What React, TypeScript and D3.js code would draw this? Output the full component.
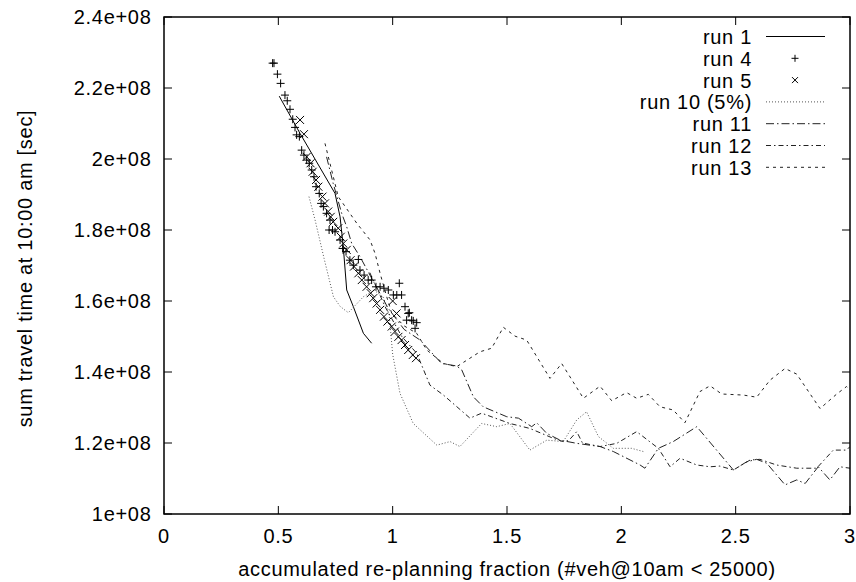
import React from "react";
import * as d3 from "d3";

const W = 856;
const H = 582;
const M = { left: 164, right: 6, top: 17, bottom: 68 };

const xTicks = [0, 0.5, 1, 1.5, 2, 2.5, 3];
const xTickLabels = ["0", "0.5", "1", "1.5", "2", "2.5", "3"];
const yTicks = [1e8, 1.2e8, 1.4e8, 1.6e8, 1.8e8, 2e8, 2.2e8, 2.4e8];
const yTickLabels = ["1e+08", "1.2e+08", "1.4e+08", "1.6e+08", "1.8e+08", "2e+08", "2.2e+08", "2.4e+08"];

const seriesNames = ["run 1", "run 4", "run 5", "run 10 (5%)", "run 11", "run 12", "run 13"];

const run1: [number, number][] = [
  [0.504, 2.177e8], [0.595, 2.072e8], [0.748, 1.903e8], [0.77, 1.837e8], [0.784, 1.753e8],
  [0.799, 1.631e8], [0.828, 1.584e8], [0.872, 1.509e8], [0.908, 1.481e8],
];

const run4: [number, number][] = [
  [0.475, 2.27e8], [0.481, 2.27e8], [0.496, 2.239e8], [0.51, 2.213e8], [0.529, 2.18e8], [0.539, 2.164e8],
  [0.551, 2.14e8], [0.563, 2.112e8], [0.573, 2.089e8], [0.58, 2.068e8], [0.592, 2.063e8], [0.602, 2.025e8],
  [0.612, 2.011e8], [0.624, 1.997e8], [0.635, 1.988e8], [0.646, 1.969e8], [0.656, 1.95e8], [0.665, 1.922e8],
  [0.679, 1.903e8], [0.687, 1.875e8], [0.697, 1.866e8], [0.711, 1.847e8], [0.726, 1.828e8], [0.722, 1.8e8],
  [0.737, 1.8e8], [0.748, 1.795e8], [0.77, 1.772e8], [0.781, 1.748e8], [0.796, 1.739e8], [0.813, 1.715e8],
  [0.828, 1.701e8], [0.85, 1.717e8], [0.857, 1.687e8], [0.875, 1.673e8], [0.893, 1.659e8], [0.908, 1.659e8],
  [0.927, 1.64e8], [0.945, 1.64e8], [0.962, 1.636e8], [0.981, 1.631e8], [1.003, 1.617e8], [1.018, 1.617e8],
  [1.029, 1.65e8], [1.039, 1.617e8], [1.054, 1.584e8], [1.068, 1.565e8], [1.073, 1.567e8], [1.061, 1.546e8],
  [1.083, 1.546e8], [1.09, 1.544e8], [1.098, 1.523e8], [1.105, 1.539e8],
];

const run5: [number, number][] = [
  [0.595, 2.11e8], [0.612, 2.07e8], [0.624, 2.006e8], [0.641, 1.988e8], [0.65, 1.964e8], [0.665, 1.941e8],
  [0.675, 1.922e8], [0.693, 1.894e8], [0.704, 1.875e8], [0.718, 1.852e8], [0.729, 1.837e8], [0.74, 1.823e8],
  [0.762, 1.805e8], [0.773, 1.781e8], [0.784, 1.762e8], [0.799, 1.744e8], [0.816, 1.715e8], [0.831, 1.697e8],
  [0.85, 1.678e8], [0.865, 1.659e8], [0.886, 1.64e8], [0.904, 1.622e8], [0.915, 1.608e8], [0.93, 1.593e8],
  [0.945, 1.575e8], [0.962, 1.556e8], [0.977, 1.542e8], [0.996, 1.528e8], [1.01, 1.514e8], [1.025, 1.499e8],
  [1.039, 1.49e8], [1.054, 1.476e8], [1.068, 1.462e8], [1.088, 1.448e8], [1.102, 1.439e8], [1.017, 1.565e8],
  [1.0, 1.6e8],
];

const run10: [number, number][] = [
  [0.634, 1.894e8], [0.66, 1.83e8], [0.7, 1.72e8], [0.741, 1.612e8], [0.77, 1.585e8], [0.806, 1.567e8],
  [0.84, 1.59e8], [0.872, 1.612e8], [0.92, 1.63e8], [0.96, 1.61e8], [0.985, 1.56e8], [1.0, 1.45e8],
  [1.032, 1.34e8], [1.09, 1.255e8], [1.193, 1.194e8], [1.251, 1.204e8], [1.294, 1.19e8], [1.389, 1.255e8],
  [1.455, 1.246e8], [1.513, 1.255e8], [1.6, 1.18e8], [1.674, 1.208e8], [1.746, 1.204e8], [1.805, 1.265e8],
  [1.848, 1.288e8], [1.9, 1.218e8], [1.965, 1.185e8], [2.045, 1.185e8], [2.096, 1.176e8],
];

const run11: [number, number][] = [
  [0.711, 2.006e8], [0.74, 1.931e8], [0.777, 1.847e8], [0.799, 1.809e8], [0.821, 1.762e8], [0.857, 1.725e8],
  [0.92, 1.65e8], [0.98, 1.58e8], [1.05, 1.52e8], [1.12, 1.49e8], [1.214, 1.424e8], [1.28, 1.417e8],
  [1.302, 1.406e8], [1.353, 1.33e8], [1.396, 1.302e8], [1.499, 1.274e8], [1.55, 1.27e8], [1.608, 1.246e8],
  [1.63, 1.257e8], [1.674, 1.227e8], [1.732, 1.208e8], [1.805, 1.199e8], [1.907, 1.19e8], [1.965, 1.176e8],
  [2.082, 1.138e8], [2.103, 1.129e8], [2.162, 1.185e8], [2.227, 1.204e8], [2.33, 1.246e8], [2.49, 1.124e8],
  [2.548, 1.147e8], [2.592, 1.154e8], [2.636, 1.143e8], [2.716, 1.082e8], [2.767, 1.096e8], [2.804, 1.086e8],
  [2.861, 1.133e8], [2.912, 1.096e8], [2.956, 1.133e8], [3.0, 1.129e8],
];

const run12: [number, number][] = [
  [0.9, 1.68e8], [0.97, 1.58e8], [1.04, 1.5e8], [1.105, 1.453e8], [1.163, 1.363e8], [1.222, 1.335e8],
  [1.338, 1.27e8], [1.389, 1.284e8], [1.513, 1.255e8], [1.6, 1.241e8], [1.703, 1.213e8], [1.746, 1.204e8],
  [1.77, 1.207e8], [1.805, 1.232e8], [1.83, 1.2e8], [1.907, 1.19e8], [1.98, 1.199e8], [2.067, 1.232e8],
  [2.162, 1.185e8], [2.213, 1.133e8], [2.257, 1.157e8], [2.33, 1.138e8], [2.388, 1.133e8], [2.431, 1.135e8],
  [2.49, 1.124e8], [2.563, 1.152e8], [2.606, 1.154e8], [2.679, 1.138e8], [2.767, 1.129e8], [2.854, 1.129e8],
  [2.927, 1.18e8], [2.985, 1.18e8], [3.0, 1.19e8],
];

const run13: [number, number][] = [
  [0.704, 2.044e8], [0.762, 1.894e8], [0.843, 1.819e8], [0.901, 1.772e8], [0.923, 1.734e8], [0.945, 1.678e8],
  [0.974, 1.612e8], [0.996, 1.565e8], [1.05, 1.53e8], [1.105, 1.509e8], [1.149, 1.462e8], [1.222, 1.424e8],
  [1.28, 1.415e8], [1.382, 1.457e8], [1.433, 1.467e8], [1.484, 1.526e8], [1.535, 1.501e8], [1.586, 1.49e8],
  [1.688, 1.382e8], [1.739, 1.424e8], [1.834, 1.326e8], [1.907, 1.36e8], [1.958, 1.319e8], [2.023, 1.342e8],
  [2.067, 1.326e8], [2.118, 1.337e8], [2.169, 1.302e8], [2.227, 1.293e8], [2.278, 1.257e8], [2.344, 1.345e8],
  [2.388, 1.361e8], [2.439, 1.338e8], [2.534, 1.335e8], [2.592, 1.329e8], [2.65, 1.377e8], [2.716, 1.41e8],
  [2.767, 1.394e8], [2.869, 1.297e8], [2.942, 1.338e8], [2.985, 1.359e8], [3.0, 1.35e8],
];

const FONT = "'Liberation Sans', Arial, Helvetica, sans-serif";
const FS = 20;
const LS = 0.7;

export default function App() {
  const x = d3.scaleLinear().domain([0, 3]).range([M.left, W - M.right]);
  const y = d3.scaleLinear().domain([1e8, 2.4e8]).range([H - M.bottom, M.top]);
  const line = d3.line<[number, number]>().x((d) => x(d[0])).y((d) => y(d[1]));
  const x0 = M.left, x1 = W - M.right, y0 = H - M.bottom, y1 = M.top;
  const tick = 8;

  const lineSeries = [
    { data: run1, dash: "none", color: "#000", name: seriesNames[0], row: 0 },
    { data: run10, dash: "1,2", color: "#555", name: seriesNames[3], row: 3 },
    { data: run11, dash: "8,3,1.5,3", color: "#222", name: seriesNames[4], row: 4 },
    { data: run12, dash: "5,3,1.5,3", color: "#222", name: seriesNames[5], row: 5 },
    { data: run13, dash: "3,4", color: "#222", name: seriesNames[6], row: 6 },
  ];

  const legRowY = (i: number) => 36.5 + i * 21.8;
  const legTextX = 752;
  const legL0 = 766, legL1 = 825, legM = 795;

  const plus = (cx: number, cy: number, s: number) => `M${cx - s},${cy}H${cx + s}M${cx},${cy - s}V${cy + s}`;
  const cross = (cx: number, cy: number, s: number) => `M${cx - s},${cy - s}L${cx + s},${cy + s}M${cx - s},${cy + s}L${cx + s},${cy - s}`;

  return (
    <svg width={W} height={H} style={{ position: "absolute", left: 0, top: 0, background: "#fff" }} fontFamily={FONT} letterSpacing={LS}>
      <rect x={0} y={0} width={W} height={H} fill="#fff" />
      <defs>
        <clipPath id="plotClip">
          <rect x={x0} y={y1} width={x1 - x0} height={y0 - y1} />
        </clipPath>
      </defs>
      {xTicks.map((t, i) => (
        <g key={"xt" + i}>
          <line x1={x(t)} x2={x(t)} y1={y0} y2={y0 - tick} stroke="#000" strokeWidth={1} />
          <line x1={x(t)} x2={x(t)} y1={y1} y2={y1 + tick} stroke="#000" strokeWidth={1} />
          <text x={x(t)} y={543} textAnchor="middle" fontSize={FS} fill="#000">{xTickLabels[i]}</text>
        </g>
      ))}
      {yTicks.map((t, i) => (
        <g key={"yt" + i}>
          <line x1={x0} x2={x0 + tick} y1={y(t)} y2={y(t)} stroke="#000" strokeWidth={1} />
          <line x1={x1} x2={x1 - tick} y1={y(t)} y2={y(t)} stroke="#000" strokeWidth={1} />
          <text x={151.5} y={y(t)} dy="0.37em" textAnchor="end" fontSize={FS} fill="#000">{yTickLabels[i]}</text>
        </g>
      ))}
      <g clipPath="url(#plotClip)">
        {lineSeries.map((s, i) => (
          <path key={"ls" + i} d={line(s.data) || ""} fill="none" stroke={s.color} strokeWidth={1} strokeDasharray={s.dash} />
        ))}
        {run4.map((d, i) => (
          <path key={"p4" + i} d={plus(x(d[0]), y(d[1]), 4)} stroke="#000" strokeWidth={1} fill="none" />
        ))}
        {run5.map((d, i) => (
          <path key={"p5" + i} d={cross(x(d[0]), y(d[1]), 4)} stroke="#000" strokeWidth={1} fill="none" />
        ))}
      </g>
      <rect x={x0} y={y1} width={x1 - x0} height={y0 - y1} fill="none" stroke="#000" strokeWidth={1.5} />
      <text x={(x0 + x1) / 2} y={576} textAnchor="middle" fontSize={FS} fill="#000">
        accumulated re-planning fraction (#veh@10am &lt; 25000)
      </text>
      <text transform={`translate(32,${(y0 + y1) / 2 + 3}) rotate(-90)`} textAnchor="middle" fontSize={FS} fill="#000">
        sum travel time at 10:00 am [sec]
      </text>
      {seriesNames.map((n, i) => (
        <text key={"lt" + i} x={legTextX} y={legRowY(i)} dy="0.37em" textAnchor="end" fontSize={FS} fill="#000">{n}</text>
      ))}
      {lineSeries.map((s, i) => (
        <line key={"ll" + i} x1={legL0} x2={legL1} y1={legRowY(s.row)} y2={legRowY(s.row)} stroke={s.color} strokeWidth={1} strokeDasharray={s.dash} />
      ))}
      <path d={plus(legM, legRowY(1), 3.5)} stroke="#000" strokeWidth={1} fill="none" />
      <path d={cross(legM, legRowY(2), 3)} stroke="#000" strokeWidth={1} fill="none" />
    </svg>
  );
}
